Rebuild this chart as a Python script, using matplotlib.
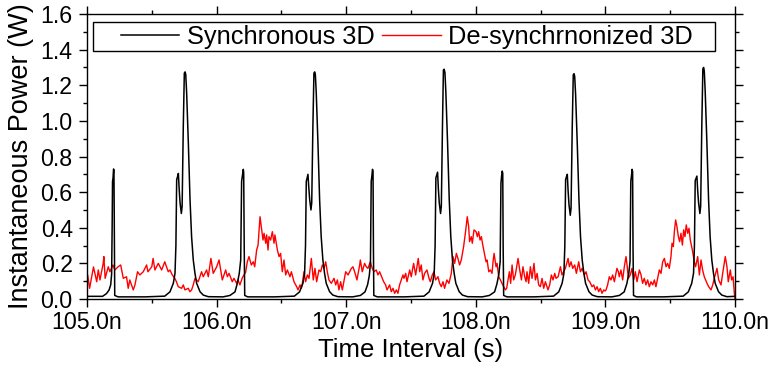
import matplotlib
matplotlib.use("Agg")
import matplotlib.pyplot as plt
from matplotlib.patches import Rectangle
from matplotlib.ticker import MultipleLocator, FormatStrFormatter

plt.rcParams['font.family'] = ['Liberation Sans', 'DejaVu Sans']

# black trace: synchronous 3D (time in ns, power in W)
sync_t = [
    105.000, 105.120, 105.150, 105.170, 105.183, 105.190, 105.194, 105.197, 105.201, 105.205,
    105.208, 105.211, 105.214, 105.240, 105.450, 105.600, 105.640, 105.666, 105.679, 105.686,
    105.692, 105.700, 105.705, 105.711, 105.718, 105.728, 105.734, 105.743, 105.751, 105.757,
    105.762, 105.769, 105.782, 105.795, 105.807, 105.820, 105.833, 105.846, 105.872, 105.897,
    105.936,
    106.050, 106.103, 106.142, 106.160, 106.175, 106.186, 106.193, 106.200, 106.206, 106.209,
    106.213, 106.217, 106.240, 106.450, 106.600, 106.640, 106.666, 106.679, 106.686, 106.692,
    106.700, 106.705, 106.711, 106.718, 106.728, 106.734, 106.743, 106.751, 106.757, 106.762,
    106.769, 106.782, 106.795, 106.807, 106.820, 106.833, 106.846, 106.872, 106.897, 106.936,
    107.050, 107.110, 107.145, 107.165, 107.178, 107.187, 107.193, 107.198, 107.203, 107.207,
    107.210, 107.213, 107.240, 107.450, 107.600, 107.640, 107.666, 107.679, 107.686, 107.692,
    107.700, 107.705, 107.711, 107.718, 107.728, 107.734, 107.743, 107.750, 107.756, 107.762,
    107.769, 107.782, 107.795, 107.807, 107.820, 107.833, 107.846, 107.872, 107.897, 107.936,
    108.050, 108.105, 108.145, 108.163, 108.178, 108.188, 108.194, 108.199, 108.204, 108.208,
    108.211, 108.215, 108.240, 108.450, 108.600, 108.640, 108.666, 108.680, 108.687, 108.693,
    108.701, 108.706, 108.712, 108.719, 108.729, 108.735, 108.744, 108.752, 108.758, 108.763,
    108.770, 108.783, 108.796, 108.808, 108.821, 108.834, 108.847, 108.873, 108.898, 108.937,
    109.050, 109.108, 109.145, 109.165, 109.180, 109.190, 109.196, 109.201, 109.206, 109.210,
    109.213, 109.217, 109.240, 109.450, 109.600, 109.640, 109.666, 109.680, 109.687, 109.693,
    109.701, 109.706, 109.712, 109.719, 109.729, 109.735, 109.744, 109.752, 109.758, 109.763,
    109.770, 109.783, 109.796, 109.808, 109.821, 109.834, 109.847, 109.873, 109.898, 109.937,
    110.000,
]
sync_p = [
    0.015, 0.015, 0.030, 0.050, 0.080, 0.140, 0.400, 0.660, 0.680, 0.730,
    0.720, 0.350, 0.020, 0.012, 0.012, 0.016, 0.040, 0.088, 0.144, 0.300,
    0.670, 0.690, 0.705, 0.620, 0.540, 0.480, 0.520, 0.970, 1.268, 1.275,
    1.260, 1.155, 0.875, 0.556, 0.350, 0.219, 0.144, 0.088, 0.041, 0.022,
    0.013,
    0.012, 0.020, 0.040, 0.088, 0.144, 0.219, 0.660, 0.696, 0.728, 0.710,
    0.300, 0.020, 0.012, 0.012, 0.016, 0.040, 0.088, 0.144, 0.300, 0.660,
    0.685, 0.700, 0.630, 0.560, 0.500, 0.540, 0.970, 1.268, 1.275, 1.260,
    1.155, 0.875, 0.556, 0.350, 0.219, 0.144, 0.088, 0.041, 0.022, 0.013,
    0.012, 0.020, 0.040, 0.080, 0.130, 0.200, 0.660, 0.690, 0.728, 0.715,
    0.300, 0.020, 0.012, 0.012, 0.016, 0.040, 0.088, 0.144, 0.300, 0.680,
    0.700, 0.712, 0.620, 0.540, 0.480, 0.520, 0.980, 1.285, 1.290, 1.270,
    1.160, 0.880, 0.560, 0.350, 0.219, 0.144, 0.088, 0.041, 0.022, 0.013,
    0.012, 0.020, 0.040, 0.085, 0.140, 0.210, 0.650, 0.690, 0.718, 0.705,
    0.300, 0.020, 0.012, 0.012, 0.016, 0.040, 0.088, 0.144, 0.300, 0.670,
    0.690, 0.700, 0.610, 0.530, 0.470, 0.510, 0.960, 1.258, 1.265, 1.250,
    1.150, 0.870, 0.556, 0.350, 0.219, 0.144, 0.088, 0.041, 0.022, 0.013,
    0.012, 0.020, 0.040, 0.085, 0.140, 0.210, 0.660, 0.690, 0.728, 0.715,
    0.300, 0.020, 0.012, 0.012, 0.016, 0.040, 0.088, 0.144, 0.300, 0.665,
    0.680, 0.690, 0.610, 0.540, 0.480, 0.520, 0.980, 1.292, 1.300, 1.280,
    1.165, 0.880, 0.560, 0.350, 0.219, 0.144, 0.088, 0.041, 0.022, 0.013,
    0.015,
]

# red trace: de-synchronized 3D
desync_t = [
    105.000, 105.005, 105.020, 105.050, 105.075, 105.087, 105.100, 105.125, 105.130, 105.140,
    105.164, 105.177, 105.200, 105.215, 105.240, 105.260, 105.280, 105.305, 105.318, 105.330,
    105.357, 105.370, 105.390, 105.408, 105.434, 105.460, 105.470, 105.500, 105.510, 105.524,
    105.550, 105.576, 105.600, 105.627, 105.640, 105.658, 105.678, 105.690, 105.704, 105.730,
    105.743, 105.756, 105.781, 105.794, 105.807, 105.820, 105.833, 105.858, 105.884, 105.897,
    105.923, 105.936, 105.956, 105.974, 106.000,
    106.019, 106.044, 106.070, 106.083, 106.096, 106.121, 106.134, 106.155, 106.165, 106.180,
    106.199, 106.224, 106.237, 106.250, 106.268, 106.283, 106.294, 106.309, 106.320, 106.335,
    106.345, 106.358, 106.366, 106.379, 106.386, 106.397, 106.404, 106.417, 106.430, 106.443,
    106.450, 106.469, 106.482, 106.494, 106.507, 106.520, 106.533, 106.546, 106.566, 106.577,
    106.597, 106.618, 106.628, 106.644, 106.654, 106.662, 106.674, 106.687, 106.700, 106.713,
    106.731, 106.746, 106.759, 106.772, 106.790, 106.803, 106.816, 106.829, 106.842, 106.854,
    106.867, 106.885, 106.906, 106.919, 106.932, 106.944, 106.957, 106.970, 106.996,
    107.014, 107.040, 107.052, 107.065, 107.083, 107.104, 107.109, 107.124, 107.142, 107.155,
    107.168, 107.186, 107.201, 107.214, 107.232, 107.245, 107.258, 107.278, 107.289, 107.304,
    107.315, 107.335, 107.348, 107.361, 107.374, 107.387, 107.399, 107.412, 107.425, 107.438,
    107.446, 107.459, 107.469, 107.490, 107.502, 107.520, 107.536, 107.556, 107.567, 107.579,
    107.592, 107.605, 107.623, 107.639, 107.649, 107.664, 107.677, 107.690, 107.708, 107.721,
    107.734, 107.747, 107.759, 107.777, 107.793, 107.811, 107.824, 107.837, 107.850, 107.862,
    107.875, 107.888, 107.906, 107.921, 107.934, 107.945, 107.952, 107.965, 107.973, 107.986,
    108.002, 108.012, 108.022, 108.033, 108.043, 108.056, 108.066, 108.079, 108.087, 108.100,
    108.112, 108.125, 108.133, 108.141, 108.156, 108.164, 108.177, 108.190, 108.202, 108.215,
    108.228, 108.238, 108.249, 108.259, 108.269, 108.280, 108.292, 108.305, 108.326, 108.339,
    108.352, 108.364, 108.377, 108.388, 108.395, 108.408, 108.421, 108.434, 108.449, 108.460,
    108.473, 108.485, 108.498, 108.511, 108.524, 108.537, 108.557, 108.570, 108.583, 108.596,
    108.609, 108.619, 108.635, 108.653, 108.665, 108.678, 108.691, 108.712, 108.722, 108.735,
    108.748, 108.763, 108.776, 108.794, 108.807, 108.820, 108.838, 108.851, 108.866, 108.879,
    108.897, 108.910, 108.923, 108.936, 108.948, 108.961, 108.974, 108.987, 108.998,
    109.005, 109.017, 109.030, 109.043, 109.056, 109.069, 109.089, 109.100, 109.107, 109.120,
    109.133, 109.146, 109.159, 109.167, 109.177, 109.192, 109.205, 109.218, 109.231, 109.244,
    109.262, 109.275, 109.287, 109.300, 109.313, 109.326, 109.339, 109.352, 109.365, 109.378,
    109.390, 109.403, 109.416, 109.429, 109.442, 109.455, 109.468, 109.480, 109.493, 109.506,
    109.514, 109.524, 109.532, 109.542, 109.552, 109.563, 109.573, 109.583, 109.594, 109.604,
    109.614, 109.624, 109.635, 109.645, 109.655, 109.671, 109.686, 109.696, 109.712, 109.725,
    109.738, 109.750, 109.763, 109.784, 109.797, 109.815, 109.828, 109.840, 109.861, 109.874,
    109.892, 109.905, 109.925, 109.938, 109.948, 109.964, 109.974, 109.985, 109.995, 110.000,
]
desync_p = [
    0.130, 0.135, 0.060, 0.180, 0.097, 0.163, 0.107, 0.200, 0.238, 0.116,
    0.181, 0.153, 0.191, 0.163, 0.181, 0.191, 0.116, 0.125, 0.060, 0.107,
    0.051, 0.079, 0.153, 0.135, 0.153, 0.191, 0.153, 0.181, 0.228, 0.163,
    0.200, 0.163, 0.209, 0.153, 0.163, 0.135, 0.116, 0.097, 0.069, 0.060,
    0.079, 0.051, 0.060, 0.041, 0.051, 0.079, 0.116, 0.097, 0.153, 0.125,
    0.163, 0.125, 0.228, 0.144, 0.180,
    0.219, 0.107, 0.163, 0.125, 0.144, 0.097, 0.116, 0.088, 0.107, 0.079,
    0.120, 0.150, 0.209, 0.238, 0.191, 0.209, 0.181, 0.275, 0.303, 0.462,
    0.406, 0.331, 0.369, 0.313, 0.360, 0.275, 0.350, 0.331, 0.378, 0.313,
    0.360, 0.275, 0.238, 0.256, 0.153, 0.219, 0.135, 0.163, 0.125, 0.153,
    0.097, 0.069, 0.051, 0.079, 0.060, 0.088, 0.153, 0.097, 0.135, 0.116,
    0.228, 0.107, 0.172, 0.097, 0.163, 0.153, 0.191, 0.172, 0.209, 0.153,
    0.107, 0.088, 0.116, 0.079, 0.107, 0.051, 0.097, 0.051, 0.153,
    0.135, 0.172, 0.181, 0.153, 0.107, 0.191, 0.219, 0.153, 0.200, 0.181,
    0.172, 0.209, 0.172, 0.153, 0.163, 0.135, 0.153, 0.116, 0.097, 0.079,
    0.051, 0.079, 0.041, 0.060, 0.032, 0.051, 0.032, 0.079, 0.107, 0.135,
    0.116, 0.144, 0.097, 0.163, 0.125, 0.200, 0.135, 0.228, 0.153, 0.191,
    0.107, 0.144, 0.163, 0.116, 0.097, 0.135, 0.153, 0.107, 0.125, 0.088,
    0.069, 0.097, 0.060, 0.107, 0.088, 0.144, 0.238, 0.200, 0.256, 0.228,
    0.191, 0.219, 0.294, 0.378, 0.462, 0.406, 0.322, 0.350, 0.313, 0.388,
    0.378, 0.350, 0.378, 0.331, 0.350, 0.294, 0.256, 0.209, 0.219, 0.153,
    0.163, 0.144, 0.209, 0.256, 0.181, 0.200, 0.125, 0.107, 0.088, 0.069,
    0.051, 0.060, 0.107, 0.153, 0.088, 0.191, 0.107, 0.135, 0.228, 0.163,
    0.107, 0.181, 0.125, 0.097, 0.153, 0.088, 0.181, 0.116, 0.200, 0.107,
    0.144, 0.079, 0.069, 0.116, 0.060, 0.097, 0.051, 0.079, 0.135, 0.107,
    0.144, 0.116, 0.125, 0.181, 0.135, 0.153, 0.172, 0.228, 0.181, 0.209,
    0.172, 0.191, 0.144, 0.209, 0.153, 0.172, 0.135, 0.153, 0.107, 0.097,
    0.069, 0.079, 0.051, 0.069, 0.041, 0.060, 0.032, 0.051, 0.045,
    0.051, 0.079, 0.125, 0.107, 0.135, 0.097, 0.172, 0.153, 0.125, 0.163,
    0.107, 0.181, 0.238, 0.191, 0.116, 0.135, 0.172, 0.107, 0.153, 0.097,
    0.163, 0.135, 0.088, 0.116, 0.079, 0.107, 0.069, 0.097, 0.079, 0.107,
    0.069, 0.116, 0.163, 0.144, 0.209, 0.228, 0.181, 0.200, 0.172, 0.238,
    0.313, 0.294, 0.378, 0.444, 0.406, 0.350, 0.322, 0.369, 0.303, 0.388,
    0.350, 0.416, 0.369, 0.397, 0.331, 0.275, 0.209, 0.181, 0.238, 0.135,
    0.219, 0.163, 0.125, 0.088, 0.069, 0.051, 0.079, 0.116, 0.172, 0.107,
    0.079, 0.144, 0.238, 0.181, 0.097, 0.163, 0.107, 0.125, 0.032, 0.000,
]

xticks = [105.0, 106.0, 107.0, 108.0, 109.0, 110.0]
yticks = [0.0, 0.2, 0.4, 0.6, 0.8, 1.0, 1.2, 1.4, 1.6]

fig = plt.figure(figsize=(7.73, 3.70), dpi=100)
ax = fig.add_axes([87 / 773, 1 - 299 / 370, 648 / 773, 285 / 370])

l1, = ax.plot(sync_t, sync_p, color='black', lw=1.1, label='Synchronous 3D', zorder=3)
l2, = ax.plot(desync_t, desync_p, color='#ff0000', lw=1.0, label='De-synchrnonized 3D', zorder=2)

ax.set_xlim(105.0, 110.0)
ax.set_ylim(0.0, 1.6)
ax.set_xticks(xticks)
ax.set_yticks(yticks)
ax.xaxis.set_minor_locator(MultipleLocator(0.5))
ax.yaxis.set_minor_locator(MultipleLocator(0.1))
ax.xaxis.set_major_formatter(FormatStrFormatter('%.1fn'))
ax.yaxis.set_major_formatter(FormatStrFormatter('%.1f'))
ax.tick_params(which='both', direction='out', top=True, right=True,
               labeltop=False, labelright=False, width=1.0, labelsize=16.7)
ax.tick_params(axis='x', which='major', pad=2.5)
ax.tick_params(axis='y', which='major', pad=4.3)
ax.tick_params(which='major', length=6)
ax.tick_params(which='minor', length=3)
for s in ax.spines.values():
    s.set_linewidth(1.0)

ax.set_xlabel('Time Interval (s)', fontsize=18.5, labelpad=3)
ax.set_ylabel('Instantaneous Power (W)', fontsize=19.5, labelpad=5)

# legend box
ax.add_patch(Rectangle((0.0093, 0.870), 0.960, 0.102, transform=ax.transAxes,
                       facecolor='white', edgecolor='black', lw=1.0, zorder=4))
ax.legend(handles=[l1, l2], loc='center left', bbox_to_anchor=(0.052, 0.921),
          ncol=2, frameon=False, fontsize=18.3, handlelength=2.3, handletextpad=0.3,
          columnspacing=0.3, borderpad=0, borderaxespad=0).set_zorder(5)

fig.savefig('out.png', dpi=100)
